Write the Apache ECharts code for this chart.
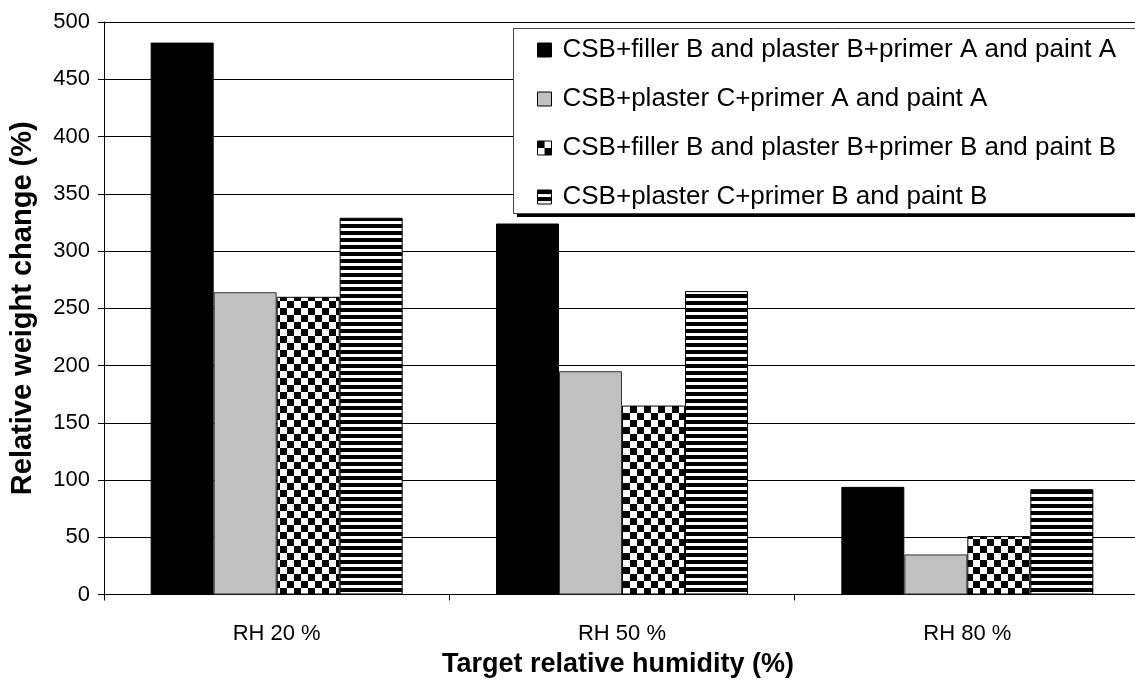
<!DOCTYPE html>
<html>
<head>
<meta charset="utf-8">
<script src="https://cdn.jsdelivr.net/npm/echarts@6/dist/echarts.min.js"></script>
<style>
  html, body { margin: 0; padding: 0; background: #fff; overflow: hidden; }
  /* plot runs a few pixels past the right edge of the page */
  #chart { width: 1150px; height: 684px; }
</style>
</head>
<body>
<div id="chart"></div>
<script>
// Target RH levels on the category axis
const categories = ['RH 20 %', 'RH 50 %', 'RH 80 %'];

// Relative weight change (%) per coating system
const seriesNames = [
  'CSB+filler B and plaster B+primer A and paint A',
  'CSB+plaster C+primer A and paint A',
  'CSB+filler B and plaster B+primer B and paint B',
  'CSB+plaster C+primer B and paint B'
];
const fillerPrimerA = [482, 324, 94];
const plasterPrimerA = [264, 195, 35];
const fillerPrimerB = [260, 165, 51];
const plasterPrimerB = [329, 265, 92];

const yTicks = { min: 0, max: 500, interval: 50 };

const FONT = '"Liberation Sans", Arial, sans-serif';

// Canvas tiles used as bar fill patterns
function checkerTile() {
  const c = document.createElement('canvas');
  c.width = 14; c.height = 14;
  const g = c.getContext('2d');
  g.fillStyle = '#fff'; g.fillRect(0, 0, 14, 14);
  g.fillStyle = '#000';
  g.fillRect(0, 0, 7, 7);
  g.fillRect(7, 7, 7, 7);
  return c;
}
function stripeTile() {
  const c = document.createElement('canvas');
  c.width = 8; c.height = 7;
  const g = c.getContext('2d');
  g.fillStyle = '#fff'; g.fillRect(0, 0, 8, 7);
  g.fillStyle = '#000';
  g.fillRect(0, 0, 8, 4);
  return c;
}

const checkerFill = { image: checkerTile(), repeat: 'repeat' };
const stripeFill = { image: stripeTile(), repeat: 'repeat' };

function bar(name, data, color, border) {
  return {
    name: name,
    type: 'bar',
    data: data,
    barWidth: 63,
    barGap: '0%',
    itemStyle: { color: color, borderColor: border, borderWidth: 1 },
    emphasis: { disabled: true }
  };
}

const chart = echarts.init(document.getElementById('chart'), null, { renderer: 'canvas' });

chart.setOption({
  animation: false,
  backgroundColor: '#fff',
  textStyle: { fontFamily: FONT },
  grid: { left: 102, right: 10, top: 22, bottom: 89.5, containLabel: false },
  graphic: [
    // legend frame with its drop shadow
    { type: 'rect', z: 3, shape: { x: 517, y: 32, width: 700, height: 185 }, style: { fill: '#000' } },
    { type: 'rect', z: 3, shape: { x: 513.5, y: 28.5, width: 700, height: 185 }, style: { fill: '#fff', stroke: '#444', lineWidth: 1 } }
  ],
  legend: {
    orient: 'vertical',
    left: 513,
    top: 28,
    padding: [9, 20, 6, 24],
    itemGap: 23,
    itemWidth: 14,
    itemHeight: 14,
    z: 5,
    icon: 'rect',
    selectedMode: false,
    textStyle: { fontFamily: FONT, fontSize: 26, color: '#000', padding: [0, 0, 0, 6] },
    itemStyle: { borderColor: '#000', borderWidth: 1 },
    data: seriesNames
  },
  xAxis: {
    type: 'category',
    data: categories,
    name: 'Target relative humidity (%)',
    nameLocation: 'middle',
    nameGap: 57,
    nameTextStyle: { fontFamily: FONT, fontSize: 27, fontWeight: 'bold', color: '#000', padding: [0, 8, 0, 0] },
    axisLine: { lineStyle: { color: '#000', width: 1 } },
    axisTick: { show: true, length: 6, lineStyle: { color: '#000' } },
    axisLabel: { fontFamily: FONT, fontSize: 22, color: '#000', margin: 28 },
    splitLine: { show: false }
  },
  yAxis: {
    type: 'value',
    min: yTicks.min,
    max: yTicks.max,
    interval: yTicks.interval,
    name: 'Relative weight change (%)',
    nameLocation: 'middle',
    nameGap: 67,
    nameTextStyle: { fontFamily: FONT, fontSize: 29, fontWeight: 'bold', color: '#000' },
    axisLine: { show: true, lineStyle: { color: '#000', width: 1 } },
    axisTick: { show: true, length: 6, lineStyle: { color: '#000' } },
    axisLabel: { fontFamily: FONT, fontSize: 22, color: '#000', margin: 14 },
    splitLine: { show: true, lineStyle: { color: '#000', width: 1 } }
  },
  series: [
    bar(seriesNames[0], fillerPrimerA, '#000', '#000'),
    bar(seriesNames[1], plasterPrimerA, '#c0c0c0', '#333'),
    bar(seriesNames[2], fillerPrimerB, checkerFill, '#000'),
    bar(seriesNames[3], plasterPrimerB, stripeFill, '#000')
  ]
});
</script>
</body>
</html>
